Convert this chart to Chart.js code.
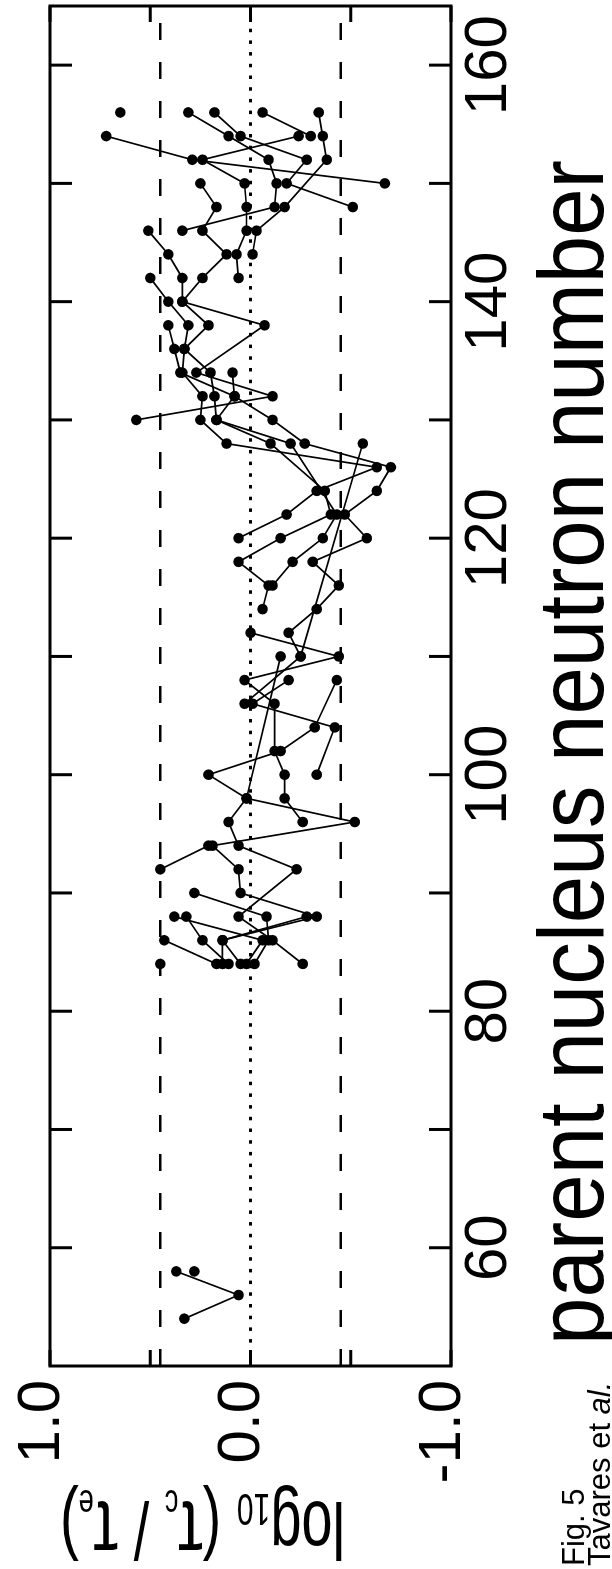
<!DOCTYPE html>
<html>
<head>
<meta charset="utf-8">
<style>
  html, body { margin:0; padding:0; background:#ffffff; width:612px; height:1569px; overflow:hidden; }
  #wrap { position:absolute; left:0; top:0; width:1569px; height:612px;
          transform-origin:0 0; transform:translate(0px,1569px) rotate(-90deg); background:#fff; }
  canvas { display:block; }
</style>
<script src="https://cdn.jsdelivr.net/npm/chart.js@4.4.1/dist/chart.umd.min.js"></script>
</head>
<body>
<div id="wrap"><canvas id="c" width="1569" height="612" style="width:1569px;height:612px"></canvas></div>
<script>
// ---- axis definitions ----
const nRange = [50, 165];
const nTicks = [60, 70, 80, 90, 100, 110, 120, 130, 140, 150, 160];
const nLabels = [60, 80, 100, 120, 140, 160];
const logRange = [-1.0, 1.0];
const logTicks = [-1.0, -0.5, 0.0, 0.5, 1.0];
const logLabels = [-1.0, 0.0, 1.0];
const refLevels = [0.45, 0.0, -0.45];

// ---- isotopic chains: [neutron number, log10(tc/te)] ----
const chainA = [[156,0.65]];
const chainB = [[154,0.72],[152,0.29],[150,-0.67]];
const chainC = [[156,0.31],[154,0.11],[152,-0.09],[150,-0.13],[148,-0.12],[146,0.34]];
const chainD = [[156,0.18],[154,0.05],[152,-0.28],[150,-0.18],[148,-0.51]];
const chainE = [[156,-0.06],[154,-0.30]];
const chainF = [[154,-0.24],[152,0.24],[150,0.03],[148,0.02],[146,0.02],[144,0.07],[142,0.06]];
const chainG = [[156,-0.34],[154,-0.36],[152,-0.38],[148,-0.17],[146,-0.03],[144,-0.01]];
const chainH = [[150,0.25],[148,0.17],[146,0.24],[144,0.12],[142,0.24],[140,0.34],[138,-0.07],[134,0.27],[132,-0.11],[130,0.57]];
const chainI = [[146,0.51],[144,0.41],[142,0.34],[140,0.34],[138,0.21],[136,0.33],[134,0.20],[132,0.18],[130,0.17],[128,-0.10],[124,-0.37],[122,-0.40],[120,-0.15],[118,0.06],[116,-0.09],[114,-0.06]];
const chainJ = [[142,0.50],[140,0.41],[138,0.31],[136,0.33],[134,0.34],[132,0.24],[130,0.25],[128,0.12],[126,-0.63],[124,-0.33],[122,-0.18],[120,0.06]];
const chainK = [[138,0.41],[136,0.38],[134,0.35],[132,0.08],[130,-0.11],[128,-0.27],[126,-0.70],[124,-0.63],[122,-0.47],[120,-0.58],[118,-0.31],[116,-0.44],[114,-0.33],[112,-0.19],[110,-0.25],[106,0.03]];
const chainL = [[134,0.09],[132,0.08],[130,0.17],[128,-0.20],[122,-0.43],[120,-0.36],[118,-0.21],[116,-0.11]];
const chainM = [[128,-0.56],[110,-0.25]];
const chainN = [[112,0.00],[110,-0.44],[108,0.03],[106,-0.12],[102,-0.12],[100,-0.17],[98,-0.17],[96,-0.26]];
const chainO = [[110,-0.15],[98,0.02],[96,0.11],[94,0.06],[92,-0.23],[88,0.06],[86,-0.11],[84,-0.26]];
const chainP = [[108,-0.19],[106,-0.01],[104,-0.42],[100,-0.33]];
const chainQ = [[108,-0.43],[104,-0.32],[102,-0.15],[100,0.21],[98,0.02],[96,-0.52],[94,0.19],[92,0.06],[90,0.05],[88,-0.33],[86,0.14],[84,0.14]];
const chainR = [[94,0.21],[92,0.45]];
const chainS = [[90,0.28],[88,-0.08],[86,-0.09],[84,-0.02]];
const chainT = [[88,0.38],[86,-0.06],[84,0.02]];
const chainU = [[88,0.32],[86,0.24],[84,0.11]];
const chainV = [[88,-0.28],[86,0.14],[84,0.05]];
const chainW = [[86,0.43],[84,0.17]];
const chainX = [[84,0.45]];
const chainY = [[54,0.33],[56,0.06],[58,0.37]];
const chainZ = [[58,0.28]];

const chains = [chainA,chainB,chainC,chainD,chainE,chainF,chainG,chainH,chainI,chainJ,chainK,chainL,chainM,
                chainN,chainO,chainP,chainQ,chainR,chainS,chainT,chainU,chainV,chainW,chainX,chainY,chainZ];

const FONT = "'Liberation Sans Narrow','Arial Narrow','Liberation Sans',Arial,sans-serif";
const SANS = "'Liberation Sans',Arial,sans-serif";

const datasets = [];
chains.forEach(ch => {
  datasets.push({
    data: ch.map(p => ({x:p[0], y:p[1]})),
    showLine: true, borderColor:'#000', borderWidth:1.7, tension:0,
    pointRadius:5.3, pointHoverRadius:5.3, pointBackgroundColor:'#000', pointBorderWidth:0,
    order: 1
  });
});
refLevels.forEach(lv => {
  const dotted = (lv === 0);
  datasets.push({
    data: [{x:nRange[0], y:lv}, {x:nRange[1], y:lv}],
    showLine:true, borderColor:'#000', borderWidth: dotted ? 3 : 2.6,
    borderDash: dotted ? [3.5, 8.2] : [17, 22], borderCapStyle:'butt',
    pointRadius:0, pointHoverRadius:0, order: 2
  });
});

const decorPlugin = {
  id: 'decor',
  afterDraw(chart) {
    const ctx = chart.ctx;
    const a = chart.chartArea;
    const xs = chart.scales.x, ys = chart.scales.y;
    ctx.save();
    ctx.strokeStyle = '#000';
    ctx.fillStyle = '#000';
    // frame
    ctx.lineWidth = 3;
    ctx.strokeRect(a.left, a.top, a.right - a.left, a.bottom - a.top);
    // inner ticks, neutron-number axis (both sides)
    nTicks.forEach(v => {
      const px = xs.getPixelForValue(v);
      ctx.beginPath();
      ctx.moveTo(px, a.top); ctx.lineTo(px, a.top + 22);
      ctx.moveTo(px, a.bottom); ctx.lineTo(px, a.bottom - 22);
      ctx.stroke();
    });
    // inner ticks, log axis (both sides)
    logTicks.forEach(v => {
      const py = ys.getPixelForValue(v);
      ctx.beginPath();
      ctx.moveTo(a.left, py); ctx.lineTo(a.left + 16, py);
      ctx.moveTo(a.right, py); ctx.lineTo(a.right - 16, py);
      ctx.stroke();
    });

    // x-axis title (neutron number)
    const xt = 'parent nucleus neutron number';
    ctx.font = '92px ' + SANS;
    const xw = ctx.measureText(xt).width;
    ctx.save();
    ctx.translate(224, 603);
    ctx.scale(1185 / xw, 1);
    ctx.textAlign = 'left';
    ctx.textBaseline = 'alphabetic';
    ctx.fillText(xt, 0, 0);
    ctx.restore();

    // y-axis title: log10 (τc / τe), rotated
    const parts = [
      {t:'log', s:82, dy:0},
      {t:'10', s:44, dy:8},
      {t:' (', s:82, dy:0},
      {t:'\u03C4', s:90, dy:0},
      {t:'c', s:40, dy:12},
      {t:' / ', s:82, dy:0},
      {t:'\u03C4', s:90, dy:0},
      {t:'e', s:40, dy:12},
      {t:')', s:82, dy:0}
    ];
    let total = 0;
    parts.forEach(p => { ctx.font = p.s + 'px ' + SANS; p.w = ctx.measureText(p.t).width; total += p.w; });
    const yStart = 345, yEnd = 60;
    const sx = (yStart - yEnd) / total;
    ctx.save();
    ctx.translate(67, yStart);
    ctx.rotate(-Math.PI / 2);
    ctx.scale(sx, 1);
    ctx.textBaseline = 'alphabetic';
    ctx.textAlign = 'left';
    let xx = 0;
    parts.forEach(p => {
      ctx.font = p.s + 'px ' + SANS;
      ctx.fillText(p.t, xx, p.dy);
      xx += p.w;
    });
    ctx.restore();

    // figure caption
    ctx.textAlign = 'left';
    ctx.textBaseline = 'alphabetic';
    ctx.font = '31px ' + SANS;
    ctx.fillText('Fig. 5', 3, 584);
    const t1 = 'Tavares et ';
    ctx.fillText(t1, 3, 610);
    const w1 = ctx.measureText(t1).width;
    ctx.font = 'italic 31px ' + SANS;
    ctx.fillText('al.', 3 + w1, 610);
    ctx.restore();
  }
};

new Chart(document.getElementById('c'), {
  type: 'scatter',
  data: { datasets },
  options: {
    responsive: false,
    maintainAspectRatio: false,
    devicePixelRatio: 1,
    animation: false,
    events: [],
    layout: { padding: { left:0, right:6, top:43, bottom:0 } },
    plugins: { legend:{display:false}, tooltip:{enabled:false}, title:{display:false} },
    scales: {
      x: {
        type:'linear', position:'bottom', min:nRange[0], max:nRange[1],
        afterBuildTicks: s => { s.ticks = nTicks.map(v => ({value:v})); },
        afterFit: s => { s.height = 161; },
        grid: { display:false, drawTicks:false },
        border: { display:false },
        ticks: {
          autoSkip:false, maxRotation:0, minRotation:0, padding:2, color:'#000',
          font: { family: FONT, size: 60 },
          callback: v => nLabels.includes(v) ? String(v) : ''
        }
      },
      y: {
        type:'linear', position:'left', min:logRange[0], max:logRange[1],
        afterBuildTicks: s => { s.ticks = logTicks.map(v => ({value:v})); },
        afterFit: s => { s.width = 203; },
        grid: { display:false, drawTicks:false },
        border: { display:false },
        ticks: {
          autoSkip:false, padding:14, color:'#000', labelOffset:-8,
          font: { family: FONT, size: 60 },
          callback: v => logLabels.some(l => Math.abs(l - v) < 1e-9) ? v.toFixed(1) : ''
        }
      }
    }
  },
  plugins: [decorPlugin]
});
</script>
</body>
</html>
